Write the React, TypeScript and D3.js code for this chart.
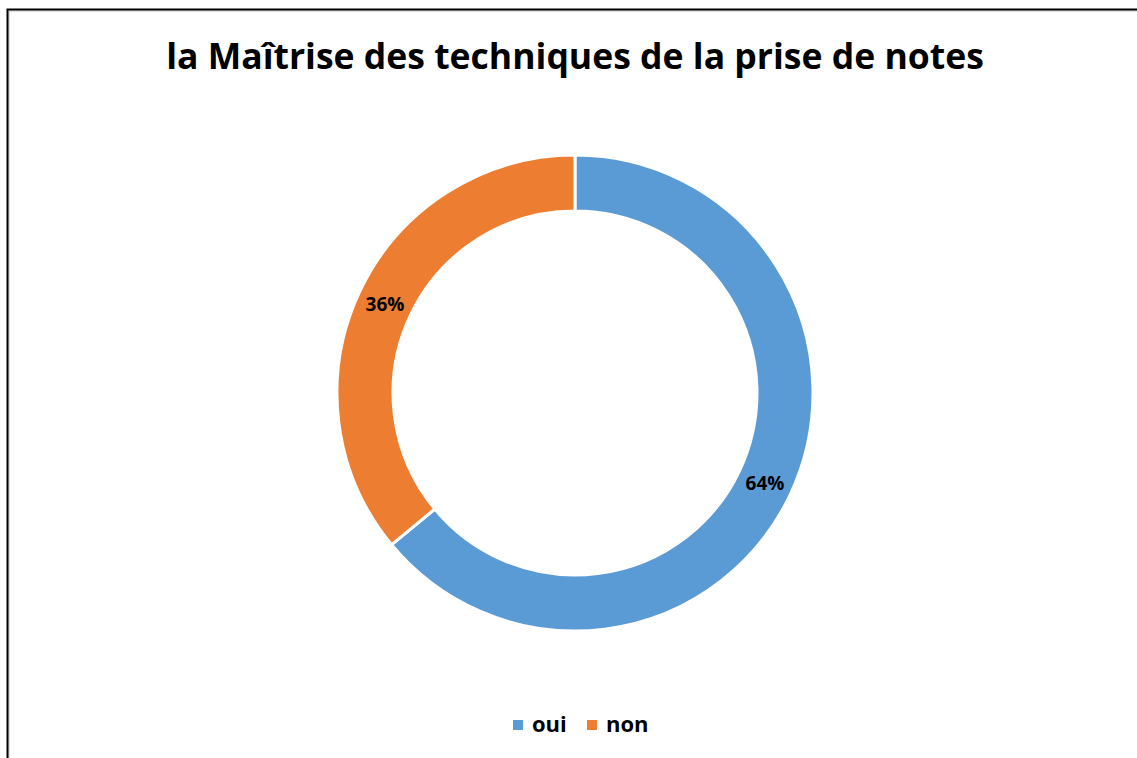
import React, { useEffect, useRef } from 'react';
import * as d3 from 'd3';

const title = 'la Maîtrise des techniques de la prise de notes';
const categories = ['oui', 'non'];
const values = [64, 36];
const colors = ['#5B9BD5', '#ED7D31'];

const W = 1137;
const H = 758;

const App = () => {
    const ref = useRef<SVGSVGElement>(null);

    useEffect(() => {
        if (!ref.current) return;
        const svg = d3.select(ref.current);
        svg.selectAll('*').remove();

        svg.append('rect')
            .attr('width', W).attr('height', H).attr('fill', '#fff');

        // frame (right and bottom edges fall outside the picture)
        svg.append('rect')
            .attr('x', 9).attr('y', 11)
            .attr('width', W + 20).attr('height', H + 20)
            .attr('fill', 'none').attr('stroke', '#bdbdbd').attr('stroke-width', 1);
        svg.append('rect')
            .attr('x', 7.5).attr('y', 9.5)
            .attr('width', W + 20).attr('height', H + 20)
            .attr('fill', 'none').attr('stroke', '#000').attr('stroke-width', 2);

        const font = '"Open Sans", Calibri, sans-serif';

        const t = svg.append('text')
            .attr('x', 575).attr('y', 69)
            .attr('text-anchor', 'middle')
            .attr('font-family', font)
            .attr('font-weight', 'bold')
            .attr('font-size', 32)
            .attr('fill', '#000')
            .text(title);
        const tw = (t.node() as SVGTextElement).getComputedTextLength();
        if (tw > 0) t.attr('font-size', 32 * 818 / tw);

        const cx = 575, cy = 393;
        const outerR = 238, innerR = 182;

        const data = categories.map((c, i) => ({ cat: c, value: values[i], color: colors[i] }));
        const pie = d3.pie<any>().value(d => d.value).sort(null);
        const arc = d3.arc<any>().innerRadius(innerR).outerRadius(outerR);

        const g = svg.append('g').attr('transform', `translate(${cx},${cy})`);
        const arcs = pie(data);

        g.selectAll('path.slice')
            .data(arcs)
            .enter()
            .append('path')
            .attr('class', 'slice')
            .attr('d', arc)
            .attr('fill', d => d.data.color)
            .attr('stroke', '#fff')
            .attr('stroke-width', 3)
            .attr('stroke-linejoin', 'miter');

        const total = d3.sum(values);
        g.selectAll('text.lbl')
            .data(arcs)
            .enter()
            .append('text')
            .attr('class', 'lbl')
            .attr('transform', d => `translate(${arc.centroid(d)})`)
            .attr('text-anchor', 'middle')
            .attr('dy', '0.38em')
            .attr('font-family', font)
            .attr('font-weight', 'bold')
            .attr('font-size', 19)
            .attr('fill', '#000')
            .text(d => `${Math.round(d.data.value / total * 100)}%`);

        // legend
        const legendX = [513, 587];
        const leg = svg.append('g');
        data.forEach((d, i) => {
            leg.append('rect')
                .attr('x', legendX[i]).attr('y', 720)
                .attr('width', 10).attr('height', 10)
                .attr('fill', d.color);
            leg.append('text')
                .attr('x', legendX[i] + 19).attr('y', 732)
                .attr('font-family', font)
                .attr('font-weight', 'bold')
                .attr('font-size', 22)
                .attr('fill', '#000')
                .text(d.cat);
        });
    }, []);

    return (
        <svg ref={ref} width={W} height={H}
            style={{ position: 'absolute', left: 0, top: 0, display: 'block' }} />
    );
};

export default App;
